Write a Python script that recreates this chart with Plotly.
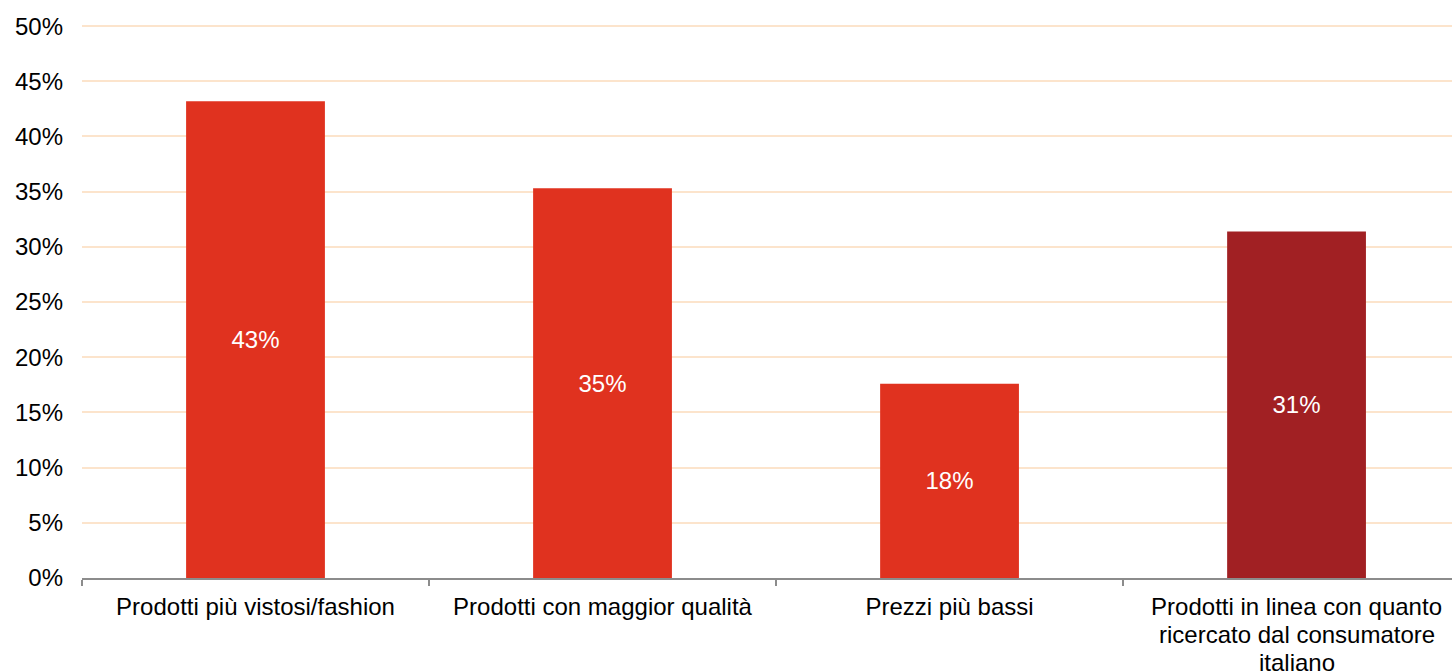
import plotly.graph_objects as go

categories = [
    "Prodotti più vistosi/fashion",
    "Prodotti con maggior qualità",
    "Prezzi più bassi",
    "Prodotti in linea con quanto<br>ricercato dal consumatore<br>italiano",
]
values = [43.2, 35.3, 17.6, 31.4]
labels = ["43%", "35%", "18%", "31%"]
colors = ["#E0321F", "#E0321F", "#E0321F", "#A12023"]
y_ticks = [0, 5, 10, 15, 20, 25, 30, 35, 40, 45, 50]
y_tick_text = [f"{v}%" for v in y_ticks]

FONT = "Liberation Sans, Arial, sans-serif"
FS = 24
LINE_GAP = 27.5  # px between wrapped label lines (tighter than plotly's default)

# first line of each category label goes on the axis; extra lines as annotations
first_lines = [c.split("<br>")[0] for c in categories]

fig = go.Figure(
    go.Bar(
        x=categories,
        y=values,
        text=labels,
        texttemplate="%{text}",
        textposition="inside",
        insidetextanchor="middle",
        textfont=dict(family=FONT, size=FS, color="white"),
        marker=dict(color=colors, line=dict(width=0)),
        width=0.4,
        hoverinfo="skip",
    )
)

annotations = []
for i, c in enumerate(categories):
    extra = c.split("<br>")[1:]
    for j, line in enumerate(extra, start=1):
        annotations.append(
            dict(
                x=c,
                xref="x",
                y=0,
                yref="paper",
                yshift=-(29 + j * LINE_GAP),
                yanchor="middle",
                xanchor="center",
                text=line,
                showarrow=False,
                font=dict(family=FONT, size=FS, color="#000000"),
            )
        )

fig.update_layout(
    width=1452,
    height=671,
    margin=dict(l=82, r=0, t=25, b=93, autoexpand=False),
    paper_bgcolor="white",
    plot_bgcolor="white",
    font=dict(family=FONT, size=FS, color="#000000"),
    showlegend=False,
    uniformtext=dict(mode=False),
    annotations=annotations,
)

fig.update_xaxes(
    type="category",
    range=[-0.5, 3.448],
    automargin=False,
    tickmode="array",
    tickvals=categories,
    ticktext=first_lines,
    showline=True,
    linecolor="#8C8C8C",
    linewidth=1.5,
    ticks="outside",
    tickson="boundaries",
    ticklen=6,
    tickcolor="#8C8C8C",
    tickwidth=1.5,
    showgrid=False,
    tickfont=dict(family=FONT, size=FS, color="#000000"),
    ticklabelstandoff=6,
)

fig.update_yaxes(
    range=[0, 50.1],
    automargin=False,
    tickvals=y_ticks,
    ticktext=y_tick_text,
    showgrid=True,
    gridcolor="#FCE4CC",
    gridwidth=1.5,
    zeroline=False,
    showline=False,
    ticks="",
    tickfont=dict(family=FONT, size=FS, color="#000000"),
    ticklabelstandoff=18,
)

fig.write_html("out.html")
